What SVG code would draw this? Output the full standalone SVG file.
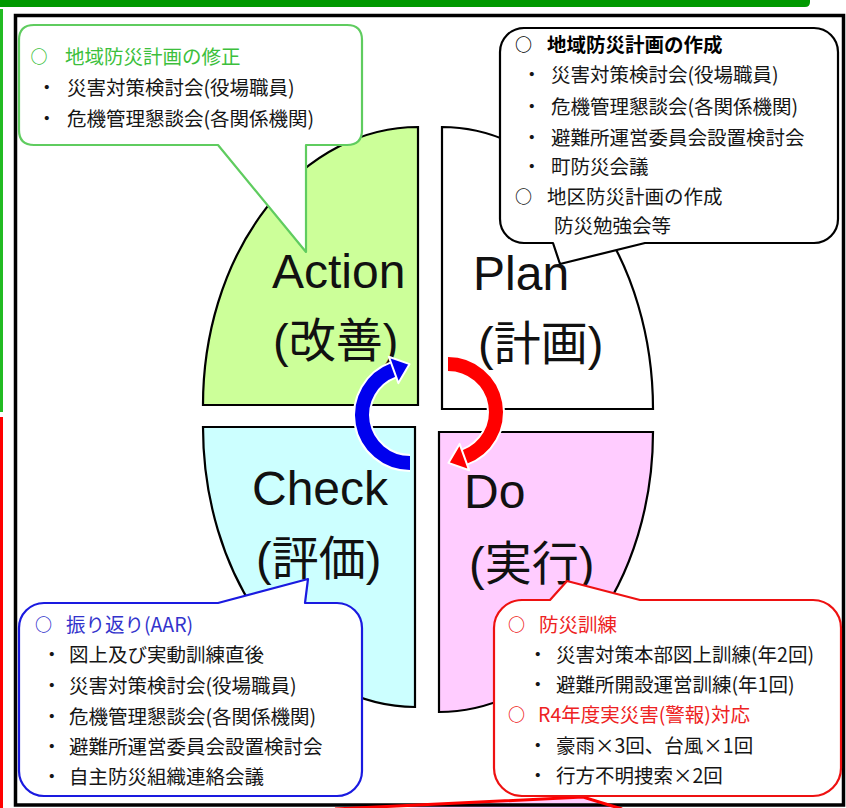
<svg xmlns="http://www.w3.org/2000/svg" width="846" height="808" viewBox="0 0 846 808">
<style>
.q{stroke:#000;stroke-width:2.2;stroke-linejoin:miter}
.big{font-family:"Liberation Sans","Noto Sans CJK JP",sans-serif;font-size:48px;fill:#111}
.bigj{font-family:"Liberation Sans","Noto Sans CJK JP",sans-serif;font-size:47px;fill:#111}
.t{font-family:"Noto Sans CJK JP","Noto Sans CJK SC",sans-serif;font-size:19.5px;fill:#151515}
.o{font-size:17px;font-weight:bold}
.co{fill:#fff;stroke-width:2.2;stroke-linejoin:round}
</style>
<rect width="846" height="808" fill="#fff"/>
<g id="page-edges">
<path d="M0,0 H810 V2 Q810,7 805,7 H0 Z" fill="#009900"/>
<rect x="0" y="9" width="3" height="403" fill="#22bb22"/>
<rect x="0" y="417" width="3" height="391" fill="#ff0000"/>
<polygon points="340,812 583,797 625,812" fill="#ffccff"/>
<rect x="15.5" y="15.5" width="828" height="789.5" fill="none" stroke="#000" stroke-width="3.5"/>
<polyline points="335,809 583,797 622,809" fill="none" stroke="#ff0000" stroke-width="3"/>
</g>
<g id="action">
<path class="q" d="M418,405 L203,405 A215,278 0 0 1 418,127 Z" fill="#ccff99"/>
<text class="big" x="272" y="288">Action</text>
<text class="bigj" x="273" y="357">(改善)</text>
</g>
<g id="plan">
<path class="q" d="M442,409 L442,127 A211,282 0 0 1 653,409 Z" fill="#fff"/>
<text class="big" x="473" y="290">Plan</text>
<text class="bigj" x="478" y="360">(計画)</text>
</g>
<g id="check">
<path class="q" d="M415,427 L415,707 A212,280 0 0 1 203,427 Z" fill="#ccffff"/>
<text class="big" x="252" y="505">Check</text>
<text class="bigj" x="256" y="575">(評価)</text>
</g>
<g id="do">
<path class="q" d="M439,432 L653,432 A214,280 0 0 1 439,712 Z" fill="#ffccff"/>
<text class="big" x="464" y="508">Do</text>
<text class="bigj" x="469" y="580">(実行)</text>
</g>
<g id="connectors">
<path d="M410,463 A48,48 0 0 1 393.6,369.9" fill="none" stroke="#fff" stroke-width="18"/>
<path d="M410,463 A48,48 0 0 1 393.6,369.9" fill="none" stroke="#0000ee" stroke-width="14"/>
<polygon points="398.4,383.1 388.8,356.7 409.6,364.1" fill="#0000ee" stroke="#fff" stroke-width="2" stroke-linejoin="round"/>
<path d="M448,364 A48,48 0 0 1 464.4,457.1" fill="none" stroke="#fff" stroke-width="18"/>
<path d="M448,364 A48,48 0 0 1 464.4,457.1" fill="none" stroke="#ff0000" stroke-width="14"/>
<polygon points="459.6,443.9 469.2,470.3 448.4,462.9" fill="#ff0000" stroke="#fff" stroke-width="2" stroke-linejoin="round"/>
</g>
<g id="callout-action">
<path class="co" stroke="#5fcc5f" d="M34,25 H347 Q362,25 362,40 V130 Q362,145 347,145 H306 L306,252 L218,145 H34 Q19,145 19,130 V40 Q19,25 34,25 Z"/>
<text class="t" style="fill:#3cbf3c"><tspan class="o" x="30.5" y="63">○</tspan><tspan x="65" y="64">地域防災計画の修正</tspan></text>
<text class="t"><tspan x="37" y="95">・</tspan><tspan x="67" y="95">災害対策検討会(役場職員)</tspan></text>
<text class="t"><tspan x="37" y="126">・</tspan><tspan x="67" y="126">危機管理懇談会(各関係機関)</tspan></text>
</g>
<g id="callout-plan">
<path class="co" stroke="#000" d="M524,28 H814 A24,24 0 0 1 838,52 V219 A24,24 0 0 1 814,243 H645 L560,264 L553,243 H524 A24,24 0 0 1 500,219 V52 A24,24 0 0 1 524,28 Z"/>
<text class="t" style="font-weight:bold;fill:#000"><tspan class="o" x="515" y="51">○</tspan><tspan x="547" y="52">地域防災計画の作成</tspan></text>
<text class="t"><tspan x="522" y="82">・</tspan><tspan x="551" y="82">災害対策検討会(役場職員)</tspan></text>
<text class="t"><tspan x="522" y="114">・</tspan><tspan x="551" y="114">危機管理懇談会(各関係機関)</tspan></text>
<text class="t"><tspan x="522" y="145">・</tspan><tspan x="551" y="145">避難所運営委員会設置検討会</tspan></text>
<text class="t"><tspan x="522" y="174">・</tspan><tspan x="551" y="174">町防災会議</tspan></text>
<text class="t"><tspan class="o" x="515" y="203">○</tspan><tspan x="547" y="204">地区防災計画の作成</tspan></text>
<text class="t"><tspan x="554" y="233">防災勉強会等</tspan></text>
</g>
<g id="callout-check">
<path class="co" stroke="#1a1ae0" d="M44,603 H218 L308,579 L305,603 H337 A25,25 0 0 1 362,628 V771 A25,25 0 0 1 337,796 H44 A25,25 0 0 1 19,771 V628 A25,25 0 0 1 44,603 Z"/>
<text class="t" style="fill:#3333cc"><tspan class="o" x="35" y="631">○</tspan><tspan x="66" y="632">振り返り(AAR)</tspan></text>
<text class="t"><tspan x="42" y="662">・</tspan><tspan x="69" y="662">図上及び実動訓練直後</tspan></text>
<text class="t"><tspan x="42" y="693">・</tspan><tspan x="69" y="693">災害対策検討会(役場職員)</tspan></text>
<text class="t"><tspan x="42" y="724">・</tspan><tspan x="69" y="724">危機管理懇談会(各関係機関)</tspan></text>
<text class="t"><tspan x="42" y="754">・</tspan><tspan x="69" y="754">避難所運営委員会設置検討会</tspan></text>
<text class="t"><tspan x="42" y="784">・</tspan><tspan x="69" y="784">自主防災組織連絡会議</tspan></text>
</g>
<g id="callout-do">
<path class="co" stroke="#ee1111" d="M522,600 H550 L567,581 L640,600 H813 A28,28 0 0 1 841,628 V768 A28,28 0 0 1 813,796 H522 A28,28 0 0 1 494,768 V628 A28,28 0 0 1 522,600 Z"/>
<text class="t" style="fill:#ee2222"><tspan class="o" x="508" y="631">○</tspan><tspan x="539" y="632">防災訓練</tspan></text>
<text class="t"><tspan x="528" y="662">・</tspan><tspan x="556" y="662">災害対策本部図上訓練(年2回)</tspan></text>
<text class="t"><tspan x="528" y="692">・</tspan><tspan x="556" y="692">避難所開設運営訓練(年1回)</tspan></text>
<text class="t" style="fill:#ee2222"><tspan class="o" x="508" y="721">○</tspan><tspan x="538" y="722">R4年度実災害(警報)対応</tspan></text>
<text class="t"><tspan x="528" y="753">・</tspan><tspan x="556" y="753">豪雨×3回、台風×1回</tspan></text>
<text class="t"><tspan x="528" y="783">・</tspan><tspan x="556" y="783">行方不明捜索×2回</tspan></text>
</g>
</svg>
